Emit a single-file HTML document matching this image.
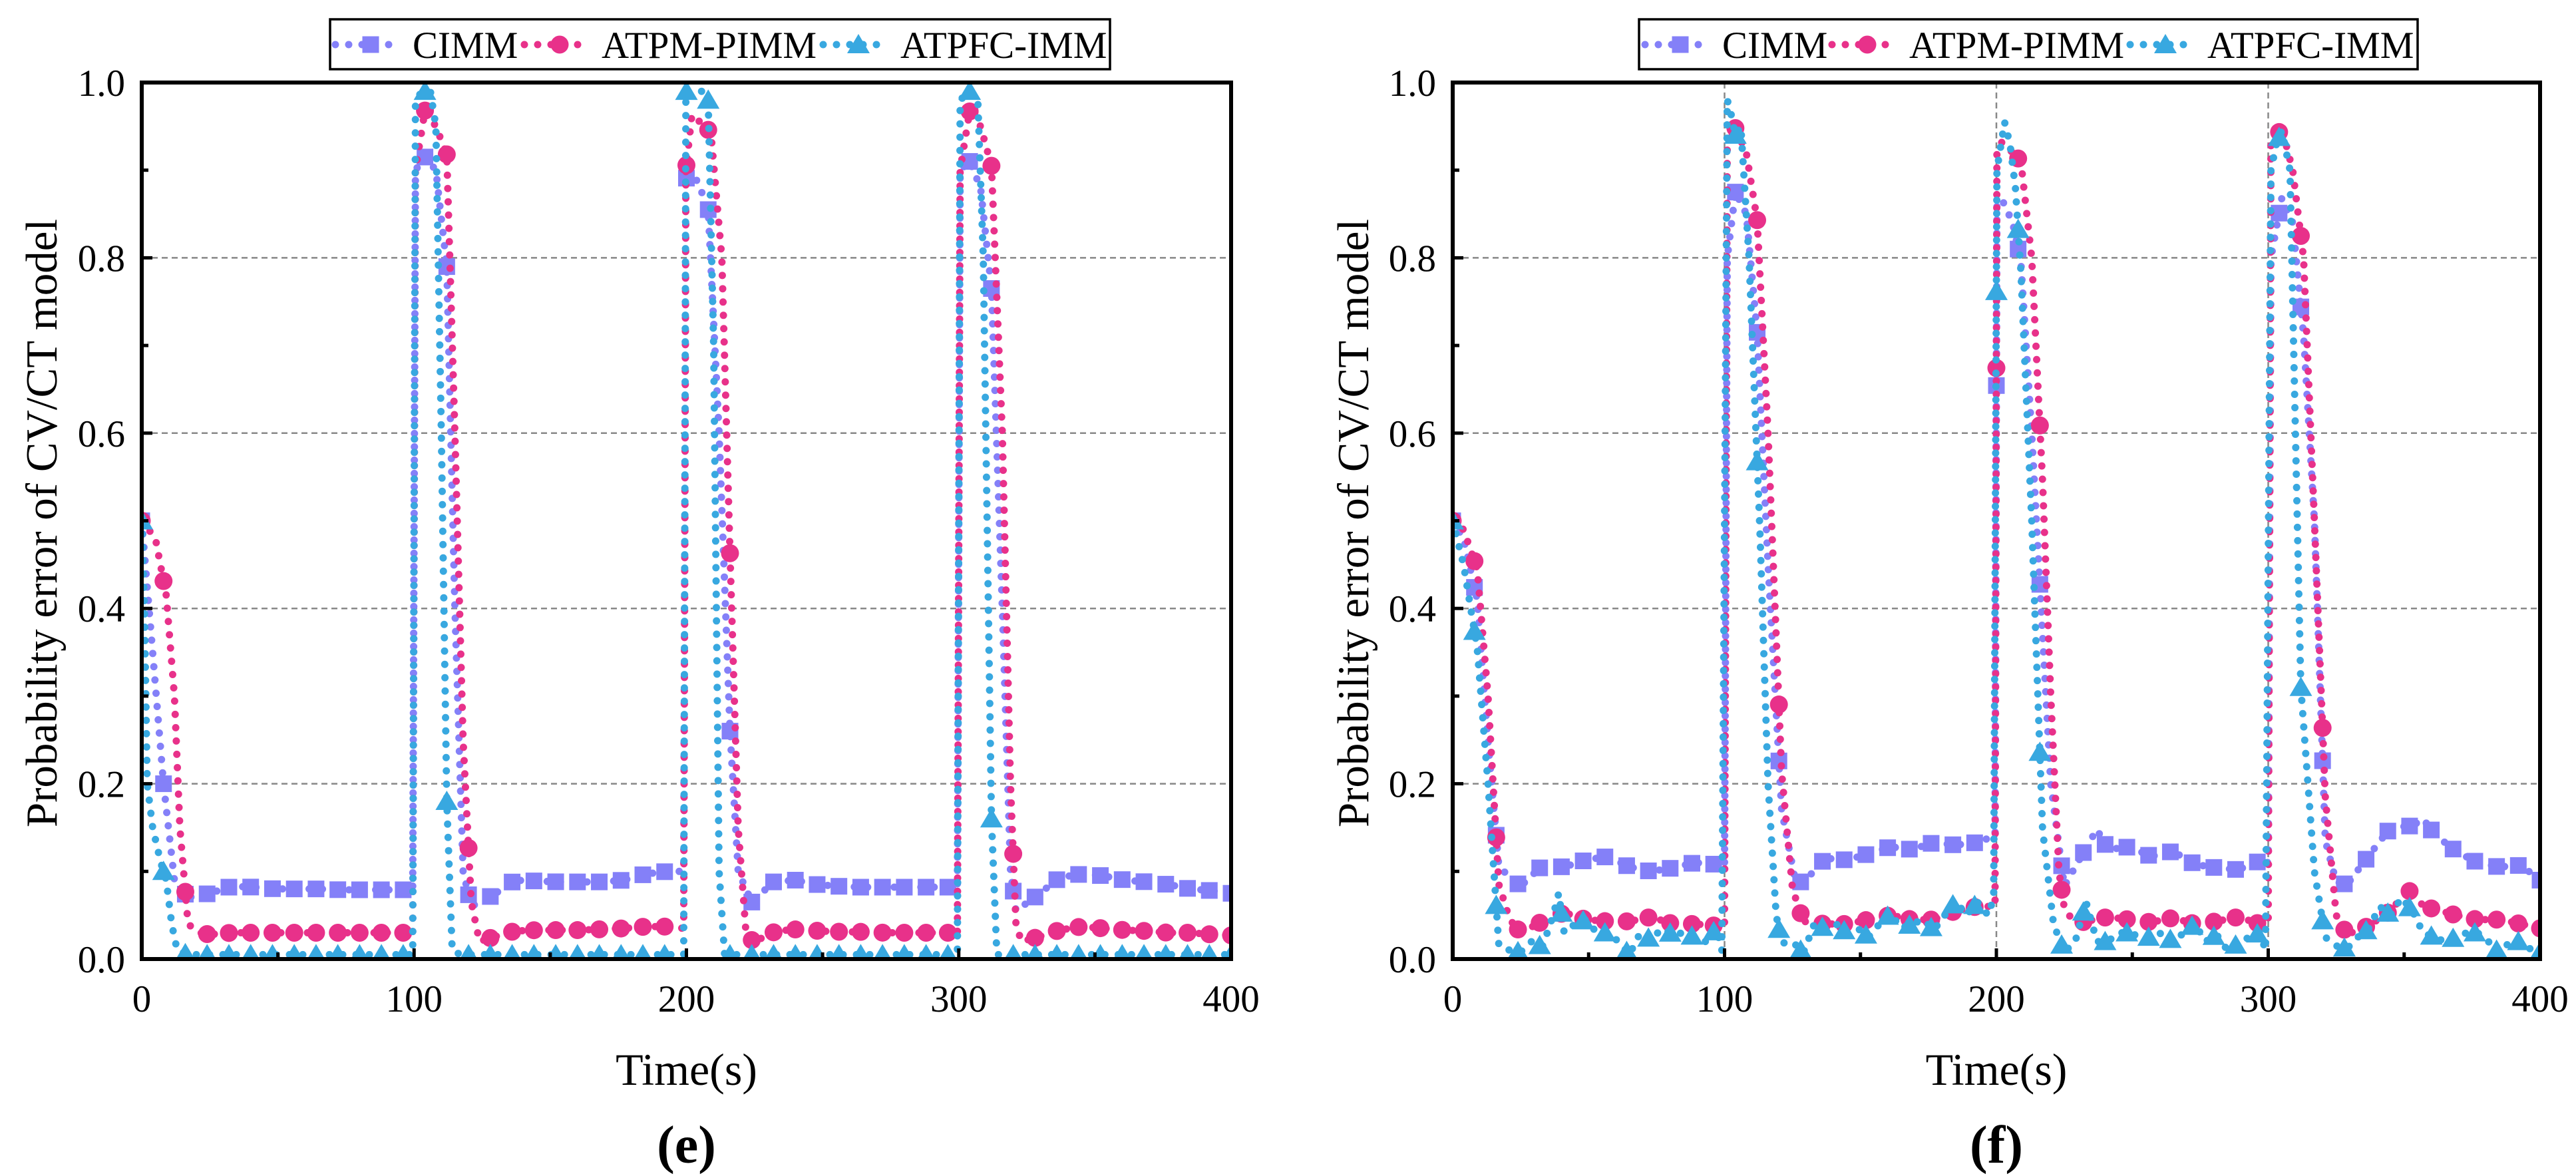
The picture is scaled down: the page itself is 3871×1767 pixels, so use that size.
<!DOCTYPE html>
<html><head><meta charset="utf-8">
<style>
html,body{margin:0;padding:0;background:#fff;}
svg{display:block;}
text{font-family:"Liberation Serif","Times New Roman",serif;fill:#000;}
</style></head>
<body>
<svg id="chart" width="3871" height="1767" viewBox="0 0 3871 1767" xmlns="http://www.w3.org/2000/svg">
<defs>
<clipPath id="clipE"><rect x="213" y="124" width="1637" height="1317"/></clipPath>
<clipPath id="clipF"><rect x="2183" y="124" width="1634" height="1317"/></clipPath>
</defs>
</svg>
<script>
// ---------------- data ----------------
const seriesNames = ["CIMM", "ATPM-PIMM", "ATPFC-IMM"];
const xTicks = [0, 100, 200, 300, 400];
const yTicks = [0.0, 0.2, 0.4, 0.6, 0.8, 1.0];
const yTickLabels = ["0.0", "0.2", "0.4", "0.6", "0.8", "1.0"];

// panel (e)
const e_cimm_t = [0,4,8,12,17,25,33,41,49,57,65,73,81,89,97,99.5,100.5,104,108,112,115,118,121,129,137,145,153,161,169,177,185,193,199,199.8,202,205,208,212,216,219,224,232,240,248,256,264,272,280,288,296,299.5,300.5,304,308,312,316,319,321,329,337,345,353,361,369,377,385,393,400];
const e_cimm_v = [0.5,0.35,0.2,0.09,0.07,0.075,0.083,0.082,0.08,0.08,0.08,0.079,0.079,0.079,0.079,0.08,0.9,0.915,0.9,0.79,0.4,0.1,0.06,0.073,0.09,0.089,0.088,0.088,0.088,0.09,0.097,0.1,0.1,0.89,0.9,0.88,0.855,0.6,0.26,0.1,0.065,0.088,0.09,0.085,0.083,0.082,0.082,0.082,0.082,0.082,0.082,0.9,0.91,0.88,0.765,0.4,0.1,0.055,0.073,0.093,0.097,0.095,0.09,0.088,0.085,0.08,0.078,0.075];
const e_atpm_t = [0,5,9,12,14,17,21,25,33,41,49,57,65,73,81,89,97,99.5,100.5,104,108,112,115,118,121,124,129,137,145,153,161,169,177,185,193,199,199.8,202,205,209,213,216,219,222,225,233,241,249,257,265,273,281,289,297,299.5,300.5,304,308,312,316,319,321,323,329,337,345,353,361,369,377,385,393,400];
const e_atpm_v = [0.5,0.48,0.415,0.3,0.15,0.04,0.03,0.028,0.03,0.03,0.03,0.03,0.03,0.03,0.03,0.03,0.03,0.03,0.9,0.968,0.95,0.918,0.6,0.25,0.065,0.02,0.025,0.032,0.033,0.033,0.033,0.034,0.035,0.037,0.037,0.035,0.9,0.963,0.955,0.943,0.8,0.463,0.15,0.025,0.02,0.032,0.034,0.032,0.031,0.031,0.03,0.03,0.03,0.03,0.03,0.9,0.967,0.95,0.905,0.6,0.2,0.04,0.02,0.025,0.033,0.037,0.035,0.033,0.032,0.03,0.03,0.028,0.027];
const e_atpfc_t = [0,1,2,4,7,9,11,13,17,99.5,100.5,103,106,108,110,112,114,117,199,199.8,203,206,208,210,212,214,299.5,300.5,304,307,309,312,314,400];
const e_atpfc_v = [0.5,0.4,0.2,0.15,0.11,0.09,0.04,0.01,0.005,0.005,0.98,0.99,0.99,0.95,0.6,0.18,0.01,0.005,0.005,0.99,0.99,0.99,0.98,0.7,0.1,0.005,0.005,0.98,0.99,0.98,0.8,0.16,0.005,0.005];

// panel (f)
const f_cimm_t = [0,4,9,13,17,25,33,41,49,57,65,73,81,89,97,100,101,104,108,112,116,121,126,129,137,145,153,161,169,177,185,193,199,199.5,200.2,202,206,209,213,217,220,225,233,237,241,249,257,265,273,281,289,297,300,301,305,309,313,317,321,325,329,337,345,353,357,361,369,377,385,393,400];
const f_cimm_v = [0.5,0.48,0.41,0.25,0.105,0.083,0.107,0.105,0.113,0.117,0.105,0.1,0.104,0.11,0.108,0.11,0.8,0.875,0.85,0.715,0.45,0.17,0.09,0.087,0.115,0.113,0.12,0.128,0.125,0.133,0.13,0.133,0.14,0.14,0.86,0.867,0.84,0.795,0.6,0.37,0.2,0.083,0.127,0.148,0.125,0.128,0.117,0.123,0.108,0.104,0.102,0.112,0.11,0.8,0.868,0.84,0.712,0.5,0.135,0.088,0.085,0.118,0.15,0.152,0.16,0.143,0.123,0.11,0.105,0.107,0.09];
const f_atpm_t = [0,4,9,13,17,21,25,33,41,49,57,65,73,81,89,97,100,101,104,108,112,116,121,125,129,137,145,153,161,169,177,185,193,199.5,200.2,202,206,209,213,217,220,223,225,229,233,241,249,257,265,273,281,289,297,300,301,305,309,313,317,321,325,329,337,345,349,353,357,361,369,377,385,393,400];
const f_atpm_v = [0.5,0.49,0.445,0.3,0.085,0.045,0.03,0.043,0.053,0.045,0.043,0.043,0.048,0.04,0.04,0.038,0.04,0.93,0.948,0.92,0.843,0.6,0.213,0.08,0.043,0.04,0.04,0.045,0.05,0.045,0.045,0.055,0.06,0.06,0.92,0.932,0.92,0.91,0.8,0.545,0.3,0.1,0.058,0.04,0.043,0.048,0.045,0.042,0.047,0.04,0.043,0.048,0.04,0.04,0.93,0.948,0.9,0.8,0.5,0.185,0.05,0.028,0.038,0.055,0.07,0.08,0.06,0.057,0.05,0.045,0.045,0.04,0.035];
const f_atpfc_t = [0,4,9,13,17,21,25,29,33,37,39,41,45,49,53,57,61,65,69,73,77,81,85,89,93,97,99,101,102,104,106,109,113,116,119,121,125,129,133,137,141,145,149,153,157,161,165,169,173,177,181,185,189,193,197,199,200.2,203,205,207,209,213,217,221,225,229,233,237,241,245,249,253,257,261,265,269,273,277,281,285,289,293,297,299,301,303,305,308,310,312,317,321,325,329,333,337,341,345,349,353,357,361,365,369,373,377,381,385,389,393,397,400];
const f_atpfc_v = [0.5,0.45,0.355,0.2,0.015,0.01,0.008,0.02,0.014,0.05,0.075,0.03,0.04,0.045,0.03,0.03,0.02,0.005,0.03,0.022,0.035,0.028,0.03,0.025,0.02,0.035,0.01,0.98,0.97,0.94,0.95,0.8,0.49,0.2,0.05,0.018,0.02,0.007,0.04,0.035,0.04,0.03,0.035,0.025,0.04,0.052,0.035,0.04,0.045,0.033,0.05,0.066,0.05,0.065,0.05,0.07,0.9,0.955,0.93,0.88,0.785,0.5,0.148,0.04,0.008,0.02,0.065,0.02,0.02,0.03,0.03,0.025,0.025,0.03,0.02,0.03,0.04,0.02,0.028,0.01,0.018,0.025,0.03,0.01,0.9,0.93,0.945,0.9,0.6,0.31,0.1,0.025,0.015,0.012,0.025,0.035,0.06,0.05,0.07,0.055,0.03,0.025,0.02,0.025,0.03,0.03,0.02,0.007,0.02,0.02,0.01,0.008];

// ---------------- drawing ----------------
const NS = "http://www.w3.org/2000/svg";
const svg = document.getElementById("chart");
const colors = ["#8480F8", "#E8318A", "#38A8E0"];
const markerTypes = ["square", "circle", "triangle"];

function mk(tag, attrs, parent) {
  const el = document.createElementNS(NS, tag);
  for (const k in attrs) el.setAttribute(k, attrs[k]);
  (parent || svg).appendChild(el);
  return el;
}
function sample(ts, vs, t) {
  if (t <= ts[0]) return vs[0];
  for (let i = 1; i < ts.length; i++) {
    if (t <= ts[i]) { const f = (t - ts[i-1]) / (ts[i] - ts[i-1]); return vs[i-1] + f * (vs[i] - vs[i-1]); }
  }
  return vs[vs.length - 1];
}
function drawMarker(g, type, cx, cy, color) {
  let m;
  if (type === "square") m = mk("rect", {x: cx - 12.5, y: cy - 12.5, width: 25, height: 25, fill: color}, g);
  else if (type === "circle") m = mk("circle", {cx: cx, cy: cy, r: 13.5, fill: color}, g);
  else m = mk("polygon", {points: `${cx},${cy-16} ${cx+17},${cy+13} ${cx-17},${cy+13}`, fill: color}, g);
  return m;
}

function drawPanel(p) {
  const L = p.left, R = p.right, T = 124, B = 1441;
  const xs = v => L + (v / 400) * (R - L);
  const ys = v => B - v * (B - T);
  const g = mk("g", {});
  
  

  const grid = mk("g", {}, g);
  
  
  [0.2, 0.4, 0.6, 0.8].forEach(v => {
    mk("line", {x1: L, x2: R, y1: ys(v), y2: ys(v), stroke: "#888", "stroke-width": 2.5, "stroke-dasharray": "9 6"}, grid);
  });
  if (p.vgrid) [100, 200, 300].forEach(v => {
    mk("line", {x1: xs(v), x2: xs(v), y1: T, y2: B, stroke: "#888", "stroke-width": 2.5, "stroke-dasharray": "9 6"}, grid);
  });

  const sg = mk("g", {"clip-path": `url(#${p.clip})`}, g);
  
  
  p.series.forEach((s, i) => {
    const d = s.t.map((t, j) => `${j ? "L" : "M"}${xs(t).toFixed(1)},${ys(s.v[j]).toFixed(1)}`).join("");
    const line = mk("path", {d: d, fill: "none", stroke: colors[i], "stroke-width": 11, "stroke-linecap": "round", "stroke-dasharray": "0 20"}, sg);
    
    
    const mg = mk("g", {}, sg);
    
    
    for (let t = 0; t <= 400; t += 8) {
      const m = drawMarker(mg, markerTypes[i], xs(t), ys(sample(s.t, s.v, t)), colors[i]);
      
      
    }
  });

  const tk = mk("g", {stroke: "#000", "stroke-width": 5}, g);
  
  
  for (let v = 0; v <= 1.0001; v += 0.1) {
    const major = Math.round(v * 10) % 2 === 0;
    mk("line", {x1: L, x2: L + (major ? 16 : 10), y1: ys(v), y2: ys(v)}, tk);
  }
  for (let v = 0; v <= 400; v += 50) {
    const major = v % 100 === 0;
    mk("line", {x1: xs(v), x2: xs(v), y1: B, y2: B - (major ? 16 : 10)}, tk);
  }

  const fr = mk("rect", {x: L, y: T, width: R - L, height: B - T, fill: "none", stroke: "#000", "stroke-width": 6}, g);
  
  

  xTicks.forEach(v => {
    const t = mk("text", {x: xs(v), y: 1520, "font-size": 57, "text-anchor": "middle"}, g);
    t.textContent = String(v);
    
    
  });
  yTicks.forEach((v, i) => {
    const t = mk("text", {x: L - 25, y: ys(v) + 20, "font-size": 57, "text-anchor": "end"}, g);
    t.textContent = yTickLabels[i];
    
    
  });

  const xt = mk("text", {x: (L + R) / 2, y: 1630, "font-size": 68, "text-anchor": "middle"}, g);
  xt.textContent = "Time(s)";
  
  
  const yx = p.ytx, yy = 786;
  const yt = mk("text", {x: yx, y: yy, "font-size": 67, "text-anchor": "middle", transform: `rotate(-90 ${yx} ${yy})`, dy: 23}, g);
  yt.textContent = "Probability error of CV/CT model";
  
  

  const pl = mk("text", {x: (L + R) / 2, y: 1747, "font-size": 80, "font-weight": "bold", "text-anchor": "middle"}, g);
  pl.textContent = "(" + p.id + ")";
  
  

  const lg = mk("g", {}, g);
  
  
  mk("rect", {x: p.legX, y: 29, width: p.legW, height: 75, fill: "#fff", stroke: "#000", "stroke-width": 3.5}, lg);
  p.legText.forEach((tx, i) => {
    const eg = mk("g", {}, lg);
    
    
    const sx = tx - 116;
    mk("line", {x1: sx, x2: sx + 100, y1: 67, y2: 67, stroke: colors[i], "stroke-width": 11, "stroke-linecap": "round", "stroke-dasharray": "0 20"}, eg);
    drawMarker(eg, markerTypes[i], sx + 53, 67, colors[i]);
    const t = mk("text", {x: tx, y: 87, "font-size": 57}, eg);
    t.textContent = seriesNames[i];
  });
}

drawPanel({id: "e", left: 213, right: 1850, clip: "clipE", vgrid: false, ytx: 62,
  legX: 496, legW: 1172, legText: [620, 904, 1353],
  series: [{t: e_cimm_t, v: e_cimm_v}, {t: e_atpm_t, v: e_atpm_v}, {t: e_atpfc_t, v: e_atpfc_v}]});
drawPanel({id: "f", left: 2183, right: 3817, clip: "clipF", vgrid: true, ytx: 2033,
  legX: 2463, legW: 1170, legText: [2588, 2869, 3317],
  series: [{t: f_cimm_t, v: f_cimm_v}, {t: f_atpm_t, v: f_atpm_v}, {t: f_atpfc_t, v: f_atpfc_v}]});
</script>
</body></html>
